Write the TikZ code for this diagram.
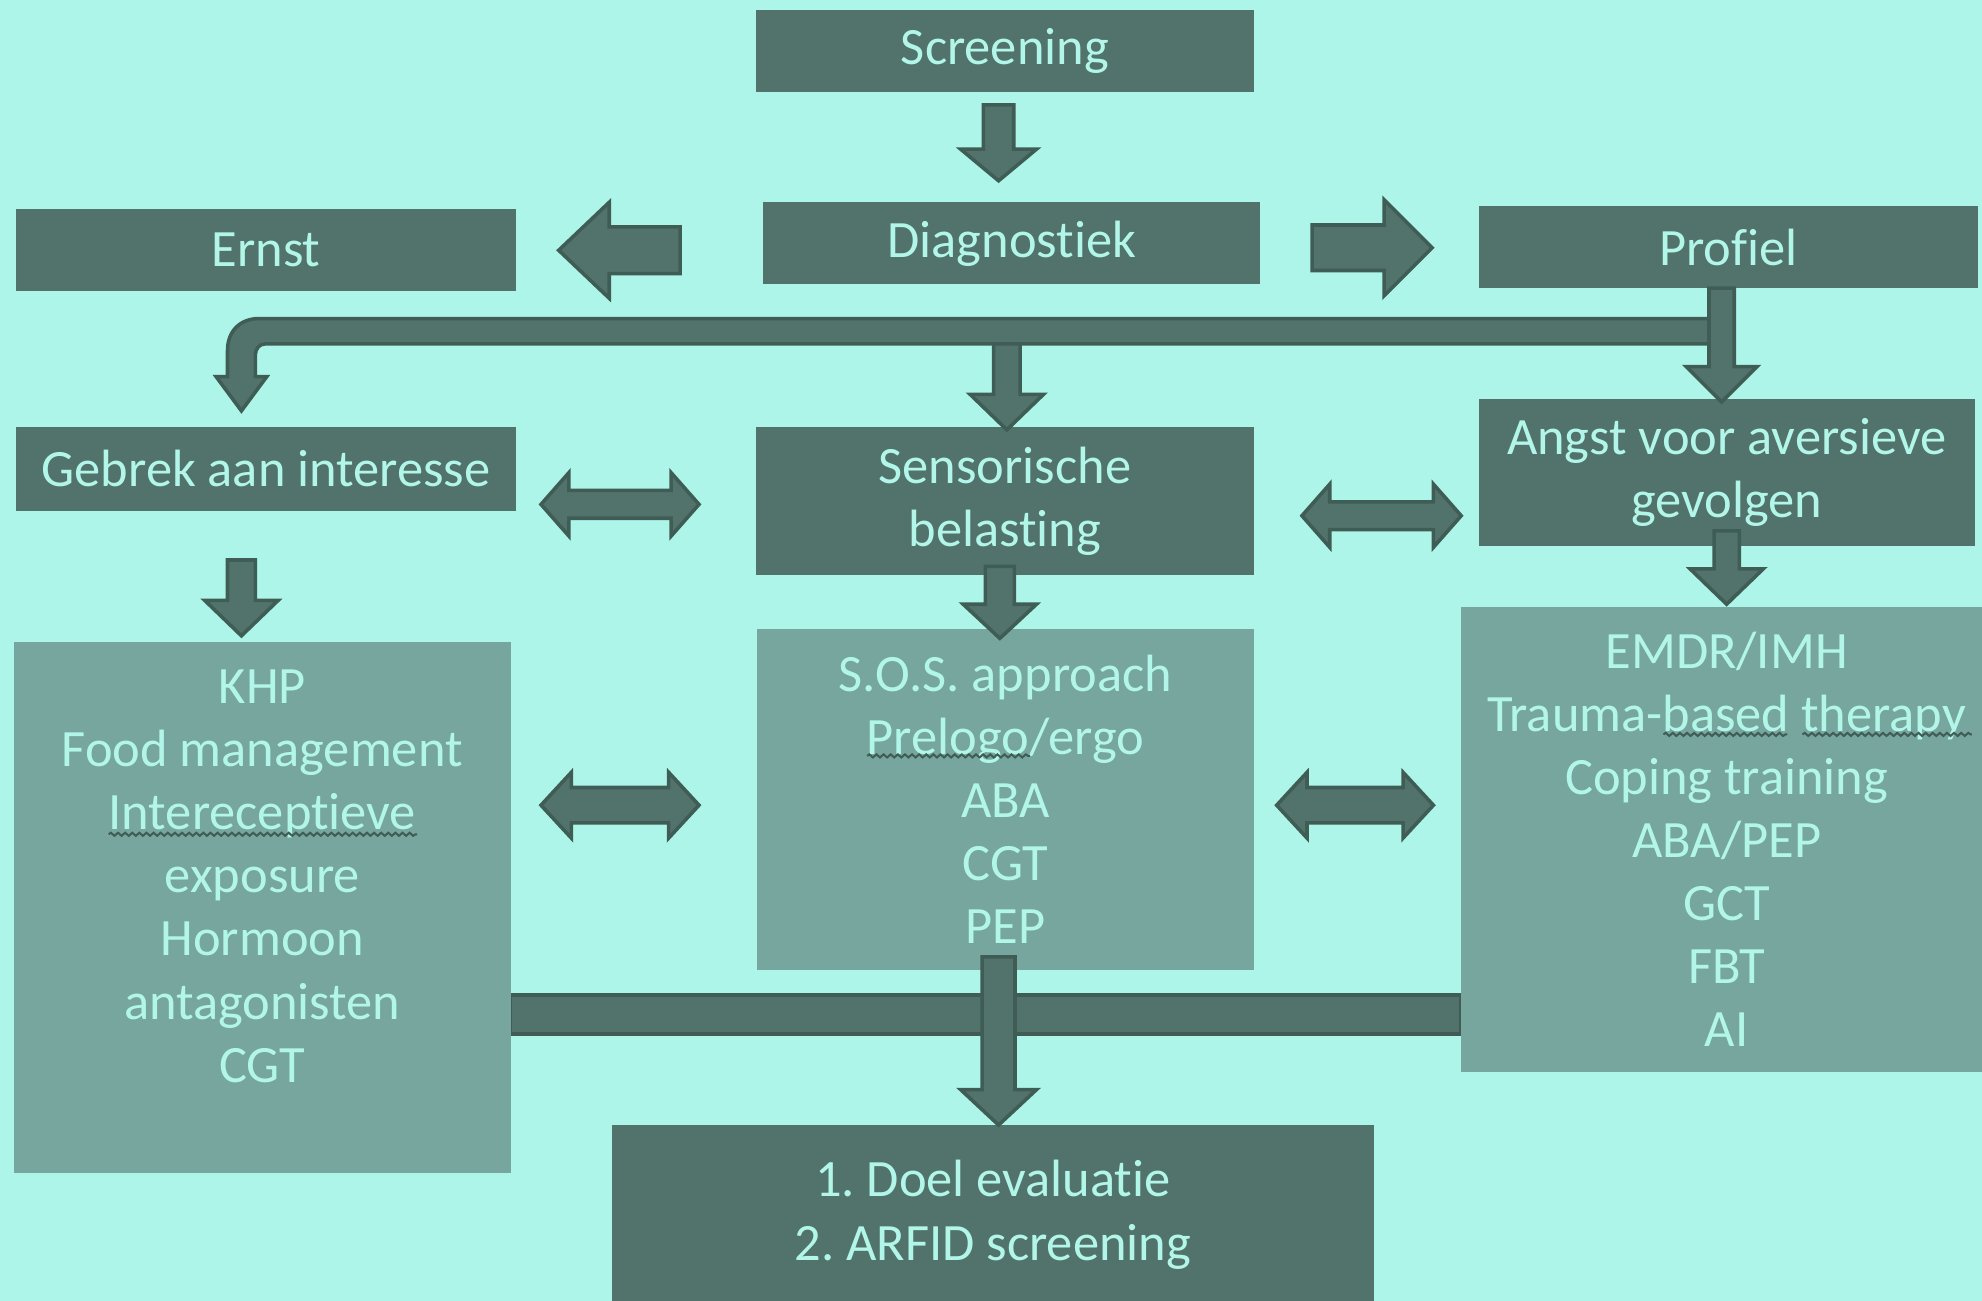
\documentclass[tikz,border=0pt]{standalone}
\usepackage{fontspec}
\setmainfont{Carlito}[Ligatures=NoCommon]
\usetikzlibrary{decorations.pathmorphing}
\definecolor{bgc}{HTML}{ADF5E9}
\definecolor{dk}{HTML}{52736B}
\definecolor{lt}{HTML}{76A69E}
\definecolor{tx}{HTML}{B2F6EA}
\definecolor{ol}{HTML}{3F5C55}
\newcommand{\downarr}[6]{% x, top, base, tip, shafthalf, headhalf
  \draw[blk] ({#1-#5},#2) -- ({#1+#5},#2) -- ({#1+#5},#3) -- ({#1+#6},#3) -- (#1,#4) -- ({#1-#6},#3) -- ({#1-#5},#3) -- cycle;}
\newcommand{\horarr}[6]{% tailx, basex, tipx, y, shafthalf, headhalf
  \draw[blk] (#1,{#4-#5}) -- (#2,{#4-#5}) -- (#2,{#4-#6}) -- (#3,#4) -- (#2,{#4+#6}) -- (#2,{#4+#5}) -- (#1,{#4+#5}) -- cycle;}
\newcommand{\dblarr}[6]{% x1, x2, y, shafthalf, headhalf, headlen
  \draw[blk] (#1,#3) -- ({#1+#6},{#3-#5}) -- ({#1+#6},{#3-#4}) -- ({#2-#6},{#3-#4}) -- ({#2-#6},{#3-#5}) -- (#2,#3) -- ({#2-#6},{#3+#5}) -- ({#2-#6},{#3+#4}) -- ({#1+#6},{#3+#4}) -- ({#1+#6},{#3+#5}) -- cycle;}
\begin{document}
\frenchspacing
\begin{tikzpicture}[x=0.01cm,y=-0.01cm,
  blk/.style={fill=dk,draw=ol,line width=0.8pt,line join=miter},
  dbox/.style={fill=dk,inner sep=0pt,text=tx,align=center,font=\fontsize{11.8}{14.2}\selectfont},
  lbox/.style={fill=lt,inner sep=0pt,text=tx,align=center,font=\fontsize{11.8}{14.2}\selectfont},
  squig/.style={draw=ol,line width=0.45pt,decorate,decoration={snake,amplitude=0.35pt,segment length=1.6pt}}]
\clip (0,0) rectangle (1568,1029);
\useasboundingbox (0,0) rectangle (1568,1029);
\fill[bgc] (0,0) rectangle (1568,1029);

% bottom bar
\draw[blk] (404,787) rectangle (1156,818);

% nodes
\node[dbox,minimum width=3.94cm,minimum height=0.65cm] (screen) at (795,40.5) {\raisebox{-0.03cm}{Screening}};
\node[dbox,minimum width=3.93cm,minimum height=0.65cm] (diag) at (800.5,192.5) {\raisebox{-0.02cm}{Diagnostiek}};
\node[dbox,minimum width=3.95cm,minimum height=0.65cm] (ernst) at (210.5,197.5) {Ernst};
\node[dbox,minimum width=3.95cm,minimum height=0.65cm] (profiel) at (1367.5,195.5) {Profiel};
\node[dbox,minimum width=3.95cm,minimum height=0.66cm] (gebrek) at (210.5,371) {Gebrek aan interesse};
\node[dbox,minimum width=3.94cm,minimum height=1.17cm] (senso) at (795,396.5) {Sensorische\\belasting};
\node[dbox,minimum width=3.92cm,minimum height=1.16cm] (angst) at (1366,374) {Angst voor aversieve\\gevolgen};
\node[lbox,minimum width=3.93cm,minimum height=4.20cm] (tgebrek) at (207.5,718) {KHP\\Food management\\Intereceptieve\\exposure\\Hormoon\\antagonisten\\CGT\\\mbox{}};
\node[lbox,minimum width=3.93cm,minimum height=2.69cm] (tsenso) at (795.5,632.5) {S.O.S. approach\\Prelogo/ergo\\ABA\\CGT\\PEP};
\node[lbox,minimum width=4.20cm,minimum height=3.68cm] (tangst) at (1366,664) {EMDR/IMH\\Trauma-based therapy\\Coping training\\ABA/PEP\\GCT\\FBT\\AI};
\node[dbox,minimum width=6.03cm,minimum height=1.42cm] (doel) at (785.5,961) {1. Doel evaluatie\\2. ARFID screening};

% spell-check squiggles
\draw[squig] (86,660) -- (330,660);
\draw[squig] (686,598) -- (815,598);
\draw[squig] (1316,581) -- (1414,581);
\draw[squig] (1426,581) -- (1560,581);

% arrows
\downarr{790}{83}{118}{143}{12}{30}
\horarr{538}{482}{442}{198}{18.5}{38}
\horarr{1038}{1095}{1133}{196}{18}{38}

% bent connector from Profiel
\draw[blk] (1362,252) -- (205,252) .. controls (190,252) and (180,262) .. (180,277)
  -- (180,298) -- (171,298) -- (191,325) -- (211,298) -- (202,298) -- (202,281)
  .. controls (202,276) and (205,272) .. (210,272) -- (1362,272) -- cycle;
\downarr{1362}{228}{290}{318}{10}{28}
\downarr{796.5}{272}{312}{340}{10.5}{29}

\dblarr{428}{553}{399}{11}{25}{22}
\dblarr{1030}{1156}{408}{11}{25}{22}
\downarr{191}{443}{475}{503}{11}{29}
\downarr{791}{448}{478}{505}{11.5}{29}
\downarr{1366}{420}{450}{478}{10}{29}
\dblarr{428}{553}{637}{14}{26}{24}
\dblarr{1010}{1134}{637}{14}{26}{24}
\downarr{790}{757}{862}{890}{13}{30}
\end{tikzpicture}
\end{document}
